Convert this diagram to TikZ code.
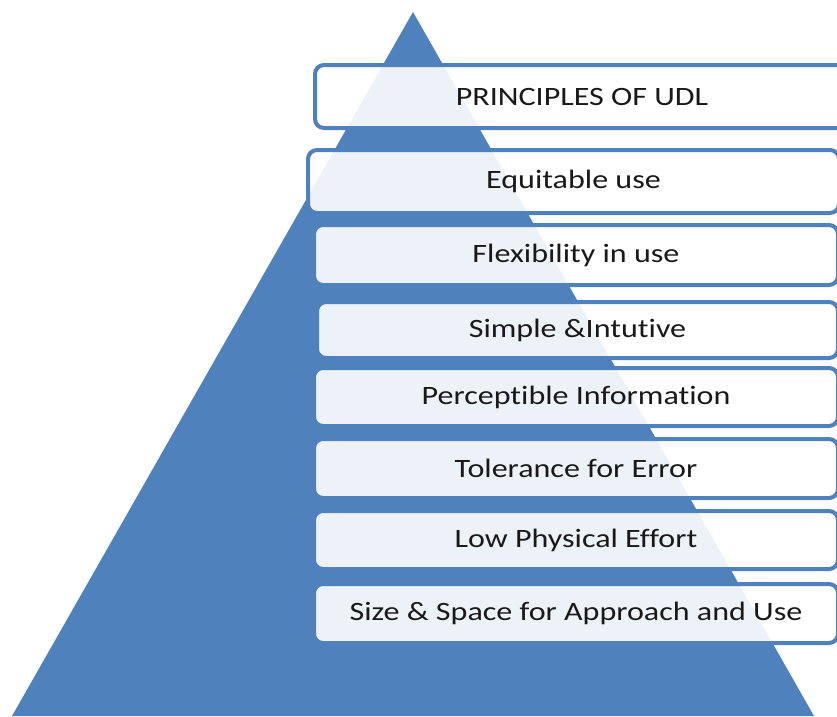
\documentclass[tikz,border=0pt]{standalone}
\usepackage{fontspec}
\setmainfont{Carlito}[FakeStretch=1.21, Ligatures=CommonOff]
\definecolor{tri}{HTML}{4F81BD}
\begin{document}
\begin{tikzpicture}[x=1pt,y=-1pt,
  ubox/.style={draw=tri, line width=4pt, fill=white, fill opacity=0.9, text opacity=1,
    rounded corners=9pt, anchor=west, inner sep=0pt, text=black!90,
    font=\fontsize{26.5}{30}\selectfont}]
\useasboundingbox (0,0) rectangle (837,716);
\clip (0,0) rectangle (837,716);
\fill[tri] (413,12) coordinate (apex) -- (12,716) coordinate (bl) -- (814,716) coordinate (br) -- cycle;
\node[ubox, minimum width=534, minimum height=63] (b1) at (313,96.5) {PRINCIPLES OF UDL};
\node[ubox, minimum width=531, minimum height=63] (b2) at (306,181.5) {Equitable use};
\node[ubox, minimum width=524, minimum height=60] (b3) at (312,255) {Flexibility in use};
\node[ubox, minimum width=521, minimum height=56] (b4) at (315,330) {Simple \&Intutive};
\node[ubox, minimum width=524, minimum height=58] (b5) at (312,397) {Perceptible Information};
\node[ubox, minimum width=524, minimum height=59] (b6) at (312,468.5) {Tolerance for Error};
\node[ubox, minimum width=524, minimum height=58] (b7) at (312,540) {Low Physical Effort};
\node[ubox, minimum width=524, minimum height=59] (b8) at (312,613.5) {Size \& Space for Approach and Use};
\end{tikzpicture}
\end{document}
